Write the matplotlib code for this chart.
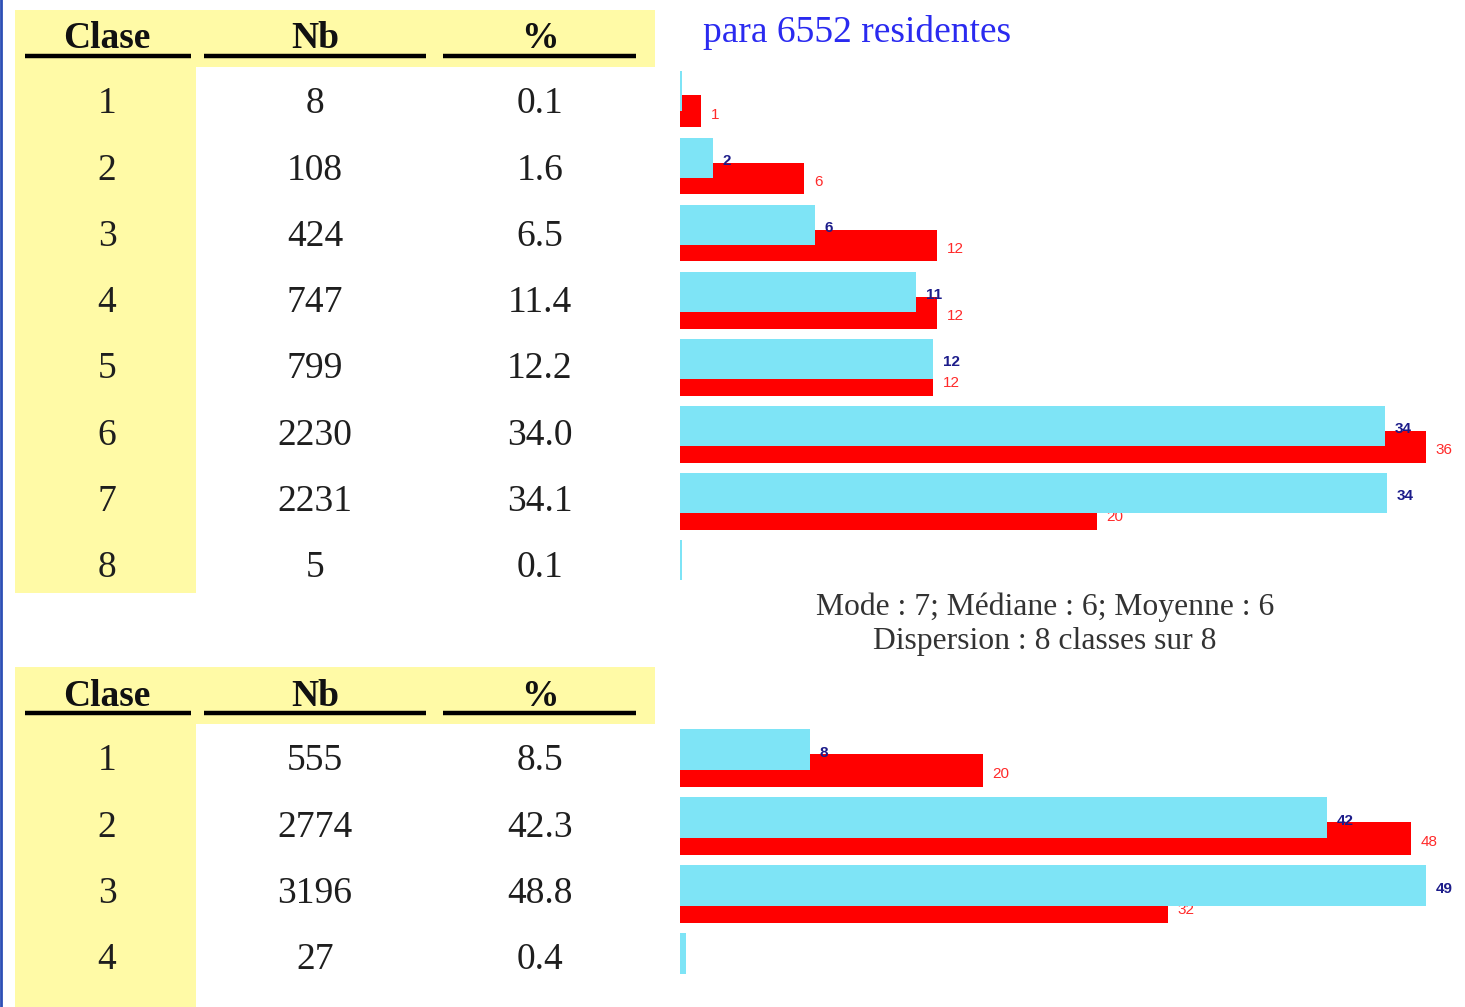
import matplotlib
matplotlib.use("Agg")
import matplotlib.pyplot as plt
from matplotlib.patches import Rectangle

# Data for the two tables and their bar charts
clases_top = [1, 2, 3, 4, 5, 6, 7, 8]
nb_top = [8, 108, 424, 747, 799, 2230, 2231, 5]
pct_top = [0.1, 1.6, 6.5, 11.4, 12.2, 34.0, 34.1, 0.1]
ref_top = [1.0, 6.0, 12.4, 12.4, 12.2, 36.0, 20.1, 0.0]

clases_bot = [1, 2, 3, 4]
nb_bot = [555, 2774, 3196, 27]
pct_bot = [8.5, 42.3, 48.8, 0.4]
ref_bot = [19.8, 47.8, 31.9, 0.0]

headers = ["Clase", "Nb", "%"]
stats_lines = ["Mode : 7; Médiane : 6; Moyenne : 6",
               "Dispersion : 8 classes sur 8"]

W, H = 1465, 1007
YELLOW = "#fffaa6"
CYAN = "#7ee4f6"
RED = "#ff0000"
SERIF = "Liberation Serif"
SANS = "Liberation Sans"


def draw_table(ax, top, bottom, clases, nb, pct):
    # yellow header band and yellow class column
    ax.add_patch(Rectangle((15, top), 640, 57, color=YELLOW, lw=0))
    ax.add_patch(Rectangle((15, top + 57), 181, bottom - top - 57, color=YELLOW, lw=0))
    col_x = [107, 315, 540]
    line_spans = [(25, 191), (204, 426), (443, 636)]
    for h, x in zip(headers, col_x):
        ax.text(x, top + 29, h, ha="center", va="center", fontsize=27,
                fontweight="bold", family=SERIF, color="#111111")
    for x0, x1 in line_spans:
        ax.plot([x0, x1], [top + 46, top + 46], color="black", lw=3.2,
                solid_capstyle="butt")
    for i in range(len(clases)):
        y = top + 94 + 66.3 * i
        row = [str(clases[i]), str(nb[i]), "%.1f" % pct[i]]
        for s, x in zip(row, col_x):
            ax.text(x, y, s, ha="center", va="center", fontsize=27,
                    family=SERIF, color="#1e1e1e")


def draw_bars(fig, y0, y1, pct, ref):
    n = len(pct)
    vmax = max(max(pct), max(ref))
    ax = fig.add_axes([680 / W, 1 - y1 / H, (W - 680) / W, (y1 - y0) / H])
    ax.set_xlim(0, vmax * (W - 680) / (1426 - 680))
    ax.set_ylim(n + 0.5, 0.5)
    ax.axis("off")
    rows = list(range(1, n + 1))
    off = 0.155
    # red bars first, cyan bars go over them
    ax.barh([r + off for r in rows], ref, height=0.475, color=RED, lw=0, zorder=1)
    for r, v in zip(rows, ref):
        if round(v) > 0:
            ax.annotate("%.0f" % v, (v, r + off + 0.05), xytext=(7, 0),
                        textcoords="offset points", ha="left", va="center",
                        fontsize=11, family=SANS, color="#ff2a2a", zorder=2)
    ax.barh([r - off for r in rows], pct, height=0.6, color=CYAN, lw=0, zorder=3)
    for r, v in zip(rows, pct):
        if round(v) > 0:
            ax.annotate("%.0f" % v, (v, r - off + 0.05), xytext=(7, 0),
                        textcoords="offset points", ha="left", va="center",
                        fontsize=11, family=SANS, color="#1c1c8a",
                        fontweight="bold", zorder=4)
    return ax


def main():
    fig = plt.figure(figsize=(W / 100, H / 100), dpi=100)
    bg = fig.add_axes([0, 0, 1, 1])
    bg.set_xlim(0, W)
    bg.set_ylim(H, 0)
    bg.axis("off")

    # thin blue border on the left edge
    bg.plot([1, 1], [0, H], color="#2d4fb5", lw=2)

    draw_table(bg, 10, 593, clases_top, nb_top, pct_top)
    draw_table(bg, 667, H, clases_bot, nb_bot, pct_bot)

    bg.text(703, 32, "para %d residentes" % sum(nb_top), ha="left", va="center",
            fontsize=27, family=SERIF, color="#2a2af0")
    bg.text(1045, 607, stats_lines[0], ha="center", va="center", fontsize=22.8,
            family=SERIF, color="#333333")
    bg.text(1045, 641, stats_lines[1], ha="center", va="center", fontsize=22.8,
            family=SERIF, color="#333333")

    draw_bars(fig, 67.5, 604, pct_top, ref_top)
    draw_bars(fig, 726, 998, pct_bot, ref_bot)

    fig.savefig("out.png", dpi=100)


if __name__ == "__main__":
    main()
